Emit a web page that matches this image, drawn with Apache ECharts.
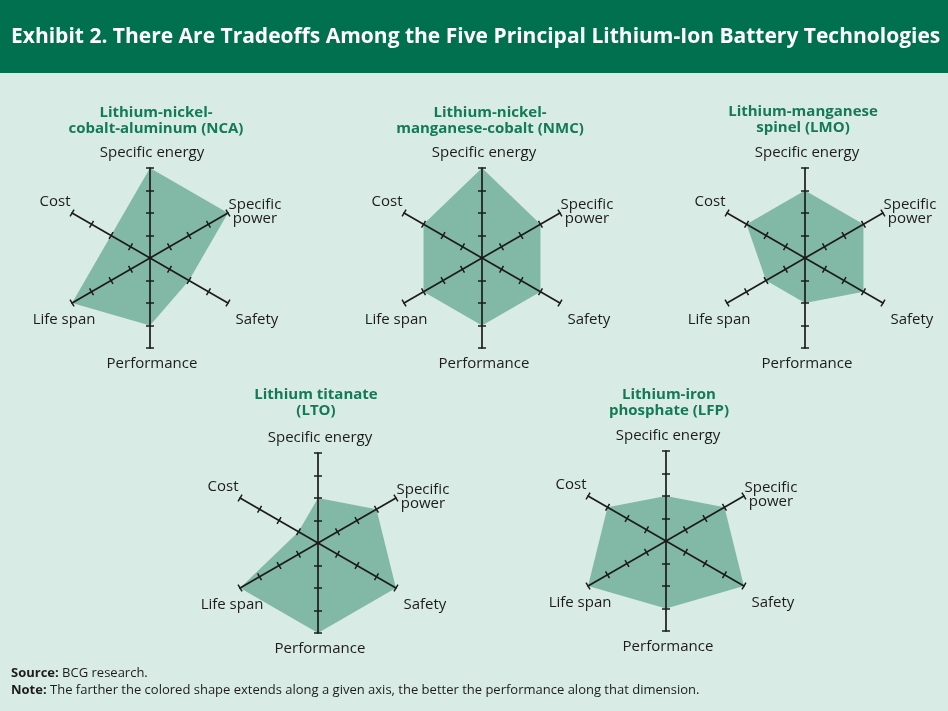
<!DOCTYPE html>
<html>
<head>
<meta charset="utf-8">
<script src="https://cdn.jsdelivr.net/npm/echarts@6/dist/echarts.min.js"></script>
<style>
  html, body { margin: 0; padding: 0; background: #d9ebe5; }
  #chart { width: 948px; height: 711px; }
</style>
</head>
<body>
<div id="chart"></div>
<script>
// indicators in ECharts order (counterclockwise, starting at the top)
const axisNames = ["Specific energy", "Cost", "Life span", "Performance", "Safety", "Specific\npower"];
const axisMax = 4;
const tickValues = [1, 2, 3, 4];

const techTitles = [
  "Lithium-nickel-\ncobalt-aluminum (NCA)",
  "Lithium-nickel-\nmanganese-cobalt (NMC)",
  "Lithium-manganese\nspinel (LMO)",
  "Lithium titanate\n(LTO)",
  "Lithium-iron\nphosphate (LFP)"
];

// scores 0-4, same order as axisNames
const ncaValues = [4, 2, 4, 3, 2, 4];
const nmcValues = [4, 3, 3, 3, 3, 3];
const lmoValues = [3, 3, 2, 2, 3, 3];
const ltoValues = [2, 1, 4, 4, 4, 3];
const lfpValues = [2, 3, 4, 3, 4, 3];

const headerText = "Exhibit 2. There Are Tradeoffs Among the Five Principal Lithium-Ion Battery Technologies";
const sourceText = "BCG research.";
const noteText = "The farther the colored shape extends along a given axis, the better the performance along that dimension.";

const allValues = [ncaValues, nmcValues, lmoValues, ltoValues, lfpValues];

// layout
const centers = [[150, 258], [482, 258], [805, 258], [318, 543], [666, 541]];
const titleTops = [105, 105, 104, 387, 387];
const titleShift = [6, 8, -2, -2, 3];
const RADIUS = 90;
const FONT = "Open Sans";
const INK = "#1c1c1c";

// where each axis name sits, relative to the axis end [dx, dy]
const nameOffsets = [[2, -15], [-17, -11], [-8, 17], [2, 16], [29, 17], [27, -3]];

// rich styles that push each name off its anchor point
const nameRich = {};
axisNames.forEach((name, k) => {
  const lines = name.split("\n");
  const dx = nameOffsets[k][0], dy = nameOffsets[k][1];
  lines.forEach((line, j) => {
    nameRich["n" + k + "_" + j] = {
      fontFamily: FONT,
      fontSize: 15,
      color: INK,
      lineHeight: 17,
      padding: [
        j === 0 && dy > 0 ? 2 * dy : 0,
        dx < 0 ? -2 * dx : 0,
        j === lines.length - 1 && dy < 0 ? -2 * dy : 0,
        dx > 0 ? 2 * dx : 0
      ]
    };
  });
});

function nameFormatter(name) {
  const k = axisNames.indexOf(name);
  return name.split("\n").map((line, j) => "{n" + k + "_" + j + "|" + line + "}").join("\n");
}

const indicator = axisNames.map(n => ({ name: n, min: 0, max: axisMax }));
// ticks drawn twice, once per side of the axis, so they cross it
function ticks(len) {
  return { show: true, length: len, customValues: tickValues, lineStyle: { color: INK, width: 1.5 } };
}

const radars = [];
const series = [];
centers.forEach((c, i) => {
  radars.push({
    center: c,
    radius: RADIUS,
    indicator: indicator,
    splitNumber: 4,
    z: 3,
    nameGap: 0,
    axisName: {
      show: true,
      color: INK,
      fontFamily: FONT,
      fontSize: 15,
      align: "center",
      verticalAlign: "middle",
      formatter: nameFormatter,
      rich: nameRich
    },
    axisLine: { show: true, lineStyle: { color: INK, width: 1.7 } },
    axisTick: ticks(4),
    axisLabel: { show: false },
    splitLine: { show: false },
    splitArea: { show: false }
  });
  series.push({
    type: "radar",
    radarIndex: i,
    z: 2,
    symbol: "none",
    silent: true,
    lineStyle: { width: 0 },
    areaStyle: { color: "#82b8a6", opacity: 1 },
    data: [{ value: allValues[i] }]
  });
});
centers.forEach((c) => {
  radars.push({
    center: c,
    radius: RADIUS,
    indicator: indicator,
    splitNumber: 4,
    z: 3,
    axisName: { show: false },
    axisLine: { show: false },
    axisTick: ticks(-4),
    axisLabel: { show: false },
    splitLine: { show: false },
    splitArea: { show: false }
  });
});

const titles = [
  {
    text: headerText,
    left: 11,
    top: 25,
    padding: 0,
    textStyle: { color: "#ffffff", fontFamily: FONT, fontSize: 21, fontWeight: "bold", lineHeight: 24 }
  },
  {
    text: "{b|Source:} " + sourceText + "\n{b|Note:} " + noteText,
    left: 11,
    top: 665,
    padding: 0,
    textStyle: {
      color: INK, fontFamily: FONT, fontSize: 13, fontWeight: "normal", lineHeight: 17,
      rich: { b: { fontFamily: FONT, fontSize: 13, fontWeight: "bold", color: INK, lineHeight: 17 } }
    }
  }
];
techTitles.forEach((t, i) => {
  titles.push({
    text: t,
    left: centers[i][0] + titleShift[i],
    top: titleTops[i],
    textAlign: "center",
    padding: 0,
    textStyle: { color: "#137a55", fontFamily: FONT, fontSize: 15, fontWeight: "bold", lineHeight: 15.5 }
  });
});

const chart = echarts.init(document.getElementById("chart"));
chart.setOption({
  backgroundColor: "#d9ebe5",
  animation: false,
  graphic: [
    { type: "rect", z: -1, shape: { x: 0, y: 0, width: 948, height: 73 }, style: { fill: "#00704e" } }
  ],
  title: titles,
  radar: radars,
  series: series
});
</script>
</body>
</html>
